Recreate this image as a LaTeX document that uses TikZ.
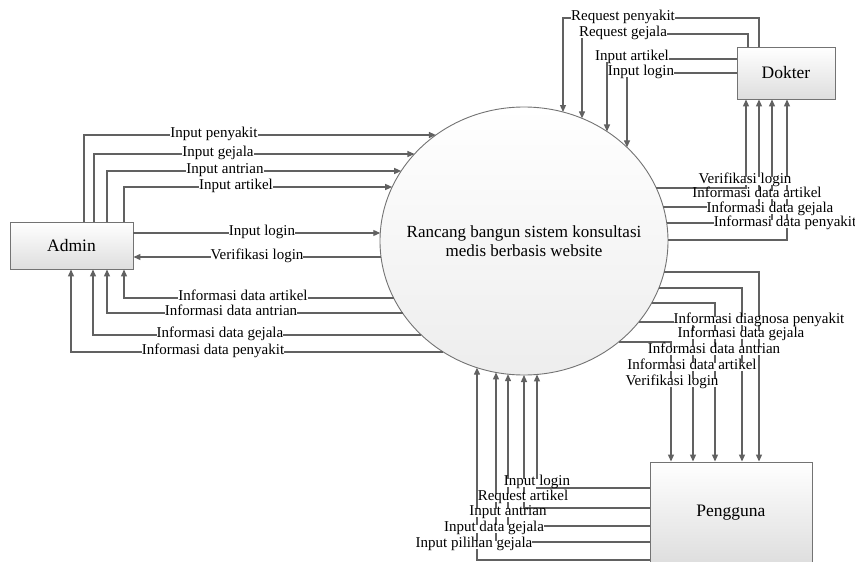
\documentclass[tikz,border=0pt]{standalone}
\usepackage{fontspec}
\setmainfont{Liberation Serif}
\usetikzlibrary{arrows.meta,shapes.geometric,positioning,calc}

\begin{document}
\begin{tikzpicture}[x=1pt, y=-1pt,
    ent/.style={draw=black!55, line width=0.9pt, top color=white, bottom color=black!13, font=\fontsize{17.5}{20}\selectfont},
    proc/.style={draw=black!55, line width=0.9pt, ellipse, top color=white, bottom color=black!7, inner sep=0pt},
    arr/.style={-{Triangle[length=7pt,width=6pt]}, draw=black!62, line width=1.2pt},
    lbl/.style={fill=white, inner sep=0pt, text height=1.5ex, text depth=0.3ex, font=\fontsize{15}{15}\selectfont}
]
\useasboundingbox (0,0) rectangle (855,562);

\node[ent, minimum width=123pt, minimum height=47pt] (admin) at (71.5,245.5) {Admin};
\node[proc, minimum width=288pt, minimum height=268pt] (sys) at (524,241) {};
\node[align=center, font=\fontsize{17}{19}\selectfont] (sysname) at (sys.center) {Rancang bangun sistem konsultasi\\medis berbasis website};
\node[ent, minimum width=98pt, minimum height=52pt] (dokter) at (786,73) {Dokter};
\node[ent, minimum width=162pt, minimum height=102pt] (pengguna) at (731,513) {Pengguna};

% points on the process border
\foreach \n/\yy in {ip/135, ig/154, ia/171, iar/187, il/233, vl/257, da/298, dn/313, dg/335, dp/352}
  \coordinate (W-\n) at ({524-144*sqrt(1-((\yy-241)/134)^2)},\yy);
\foreach \n/\yy in {vl/188, da/207, dg/223, dp/240, pd/272, pg/288, pa/303, pr/322, pv/342}
  \coordinate (E-\n) at ({524+144*sqrt(1-((\yy-241)/134)^2)},\yy);
\foreach \n/\xx in {rp/563, rg/582, ia/607, il/627}
  \coordinate (T-\n) at (\xx,{241-134*sqrt(1-((\xx-524)/144)^2)});
\foreach \n/\xx in {pg/477, dg/496, an/508, ra/524, il/537}
  \coordinate (S-\n) at (\xx,{241+134*sqrt(1-((\xx-524)/144)^2)});

% admin
\draw[arr] (admin.north -| 84,0) |- (W-ip);
\draw[arr] (admin.north -| 94,0) |- (W-ig);
\draw[arr] (admin.north -| 107,0) |- (W-ia);
\draw[arr] (admin.north -| 124,0) |- (W-iar);
\node[lbl] (l-ip) at (214,135) {Input penyakit};
\node[lbl] (l-ig) at (218,154) {Input gejala};
\node[lbl] (l-ia) at (225,171) {Input antrian};
\node[lbl] (l-iar) at (236,187) {Input artikel};

\draw[arr] (W-il -| admin.east) -- (W-il);
\draw[arr] (W-vl) -- (W-vl -| admin.east);
\node[lbl] (l-il) at (262,233) {Input login};
\node[lbl] (l-vl) at (257,257) {Verifikasi login};

\draw[arr] (W-da) -| (admin.south -| 124,0);
\draw[arr] (W-dn) -| (admin.south -| 107,0);
\draw[arr] (W-dg) -| (admin.south -| 93,0);
\draw[arr] (W-dp) -| (admin.south -| 71,0);
\node[lbl] (l-da) at (243,298) {Informasi data artikel};
\node[lbl] (l-dn) at (231,313) {Informasi data antrian};
\node[lbl] (l-dg) at (220,335) {Informasi data gejala};
\node[lbl] (l-dp) at (213,352) {Informasi data penyakit};

% dokter
\draw[arr] (dokter.north -| 759,0) |- (T-rp |- 0,18) -- (T-rp);
\draw[arr] (dokter.north -| 748,0) |- (T-rg |- 0,34) -- (T-rg);
\draw[arr] (dokter.west |- 0,59) -| (T-ia);
\draw[arr] (dokter.west |- 0,73) -| (T-il);
\node[lbl] (l-rp) at (623,18) {Request penyakit};
\node[lbl] (l-rg) at (623,34) {Request gejala};
\node[lbl] (l-dia) at (632,58) {Input artikel};
\node[lbl] (l-dil) at (641,73) {Input login};

\draw[arr] (E-vl) -| (dokter.south -| 746,0);
\draw[arr] (E-da) -| (dokter.south -| 759,0);
\draw[arr] (E-dg) -| (dokter.south -| 772,0);
\draw[arr] (E-dp) -| (dokter.south -| 787,0);
\node[lbl] (l-dvl) at (745,181) {Verifikasi login};
\node[lbl] (l-dda) at (757,195) {Informasi data artikel};
\node[lbl] (l-ddg) at (770,210) {Informasi data gejala};
\node[lbl] (l-ddp) at (785,224) {Informasi data penyakit};

% pengguna
\draw[arr] (E-pd) -| (pengguna.north -| 759,0);
\draw[arr] (E-pg) -| (pengguna.north -| 742,0);
\draw[arr] (E-pa) -| (pengguna.north -| 715,0);
\draw[arr] (E-pr) -| (pengguna.north -| 693,0);
\draw[arr] (E-pv) -| (pengguna.north -| 671,0);
\node[lbl] (l-pd) at (759,321) {Informasi diagnosa penyakit};
\node[lbl] (l-pg) at (741,335) {Informasi data gejala};
\node[lbl] (l-pa) at (714,351) {Informasi data antrian};
\node[lbl] (l-pr) at (692,367) {Informasi data artikel};
\node[lbl] (l-pv) at (672,383) {Verifikasi login};

\draw[arr] (pengguna.west |- 0,488) -| (S-il);
\draw[arr] (pengguna.west |- 0,508) -| (S-ra);
\draw[arr] (pengguna.west |- 0,526) -| (S-an);
\draw[arr] (pengguna.west |- 0,542) -| (S-dg);
\draw[arr] (pengguna.west |- 0,560) -| (S-pg);
\node[lbl] (l-uil) at (537,483) {Input login};
\node[lbl] (l-ura) at (523,498) {Request artikel};
\node[lbl] (l-uan) at (508,513) {Input antrian};
\node[lbl] (l-udg) at (494,529) {Input data gejala};
\node[lbl] (l-upg) at (474,545) {Input pilihan gejala};
\end{tikzpicture}
\end{document}
